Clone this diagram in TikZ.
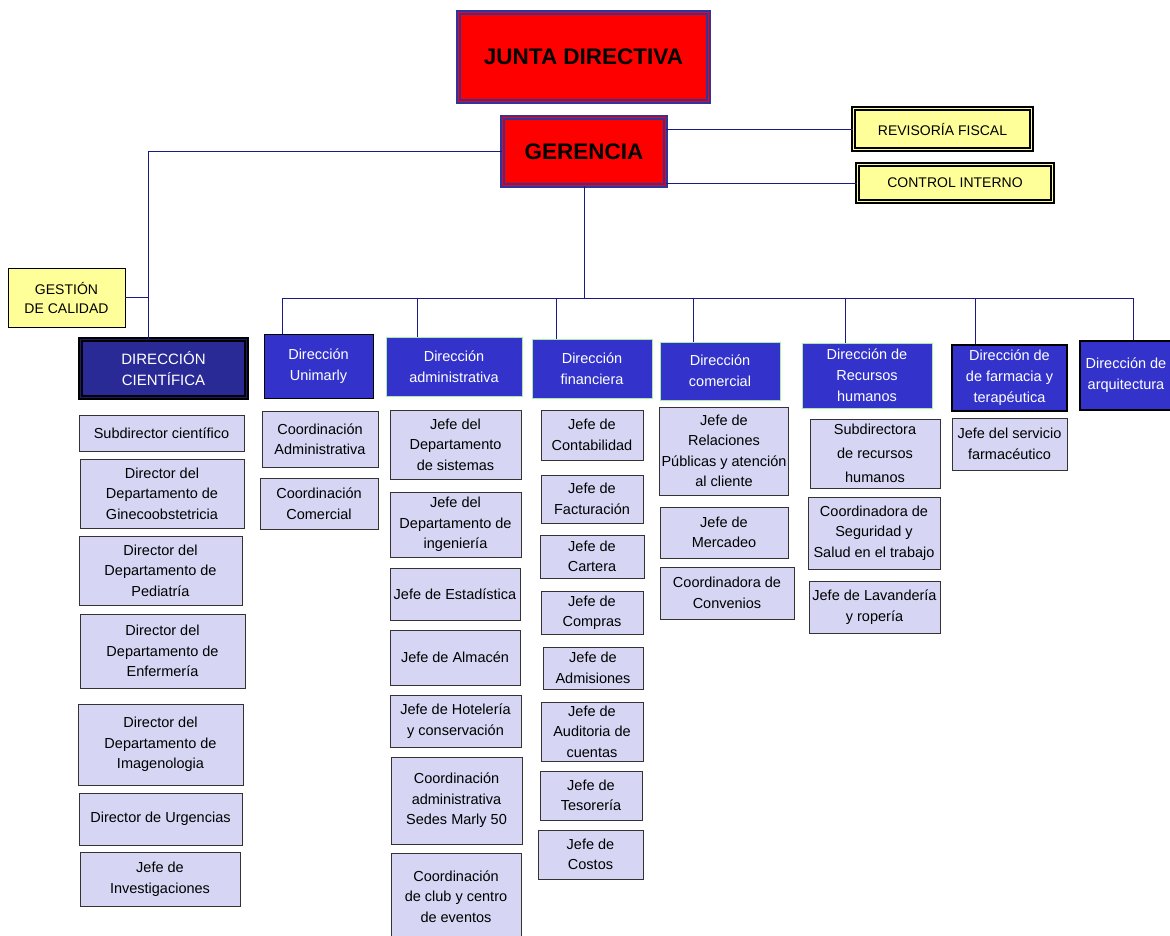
\documentclass[tikz,border=0pt]{standalone}
\usepackage{fontspec}
\setmainfont{Liberation Sans}
\usetikzlibrary{positioning,calc}
\definecolor{jred}{RGB}{255,0,0}
\definecolor{jblue}{RGB}{51,51,153}
\definecolor{dblue}{RGB}{51,51,204}
\definecolor{cblue}{RGB}{42,42,150}
\definecolor{lav}{RGB}{214,214,244}
\definecolor{pyel}{RGB}{255,255,153}
\definecolor{navy}{RGB}{25,25,135}
\definecolor{lgreen}{RGB}{170,235,170}

\begin{document}
\begin{tikzpicture}[
x=1pt,y=-1pt,
sz/.style 2 args={
  minimum width=#1pt,
  minimum height=#2pt
  },
top/.style={
  fill=jred,
  draw=jblue,
  line width=1.8pt,
  double=jred,
  double distance=1.2pt,
  font=\fontsize{22.5}{26}\selectfont\bfseries
  },
side/.style={
  fill=pyel,
  draw=black,
  line width=1.4pt,
  double=pyel,
  double distance=1.6pt,
  font=\fontsize{14}{17}\selectfont
  },
gest/.style={
  fill=pyel,
  draw=black,
  line width=0.8pt,
  align=center,
  font=\fontsize{14}{19}\selectfont
  },
dir/.style={
  fill=dblue,
  draw=black,
  line width=0.8pt,
  text=white,
  align=center,
  inner sep=2pt,
  font=\fontsize{14.5}{21}\selectfont
  },
dirg/.style={
  dir,
  draw=lgreen
  },
sub/.style={
  fill=lav,
  draw=black!80,
  line width=0.9pt,
  align=center,
  inner sep=2pt,
  font=\fontsize{14.5}{20.5}\selectfont
  },
link/.style={
  draw=navy,
  line width=1pt
  }
]
\useasboundingbox (0,0) rectangle (1170,935);

% cabeza
\node[top, sz={250}{89}] (junta) at (583.5,57) {JUNTA DIRECTIVA};
\node[top, sz={163}{68}] (ger) at (584,151.5) {GERENCIA};
\node[side, sz={178}{41}] (rf) at (942.5,129) {REVISORÍA FISCAL};
\node[side, sz={195}{37}] (ci) at (955,183) {CONTROL INTERNO};
\node[gest, sz={117}{59}] (gc) at (66.5,297.5) {GESTIÓN\\DE CALIDAD};

% direcciones
\node[dir, fill=cblue, line width=1.5pt, double=cblue!70!black, double distance=1.5pt,
  sz={166}{58}, font=\fontsize{15}{21}\selectfont] (cie) at (163.5,368.5) {DIRECCIÓN\\CIENTÍFICA};
\node[dir, sz={109}{64}] (uni) at (318.5,366) {Dirección\\Unimarly};
\node[dirg, sz={136}{59}] (adm) at (454,366.5) {Dirección\\administrativa};
\node[dirg, sz={120}{59}] (fin) at (592,368.5) {Dirección\\financiera};
\node[dirg, sz={120}{58}] (com) at (720,371) {Dirección\\comercial};
\node[dirg, sz={130}{65}] (rh) at (867,375.5) {Dirección de\\Recursos\\humanos};
\node[dir, line width=1.2pt, sz={115}{66}] (farm) at (1009.5,378) {Dirección de\\de farmacia y\\terapéutica};
\node[dir, line width=1.2pt, sz={92}{69}] (arq) at (1126,375.5) {Dirección de\\arquitectura};

% científica
\node[sub, sz={165}{36}] (c1) at (161.5,433) {Subdirector científico};
\node[sub, sz={164}{69}] (c2) at (162,493.5) {Director del\\Departamento de\\Ginecoobstetricia};
\node[sub, sz={163}{69}] (c3) at (160.5,570.5) {Director del\\Departamento de\\Pediatría};
\node[sub, sz={165}{74}] (c4) at (162.5,651) {Director del\\Departamento de\\Enfermería};
\node[sub, sz={165}{81}] (c5) at (160.5,744.5) {Director del\\Departamento de\\Imagenologia};
\node[sub, sz={163}{52}] (c6) at (160.5,819) {Director de Urgencias};
\node[sub, sz={160}{54}] (c7) at (160,879) {Jefe de\\Investigaciones};

% unimarly
\node[sub, sz={116}{56}] (u1) at (320,439) {Coordinación\\Administrativa};
\node[sub, sz={118}{51}] (u2) at (319,503.5) {Coordinación\\Comercial};

% administrativa
\node[sub, sz={131}{69}] (a1) at (455.5,444.5) {Jefe del\\Departamento\\de sistemas};
\node[sub, sz={131}{65}] (a2) at (455.5,524.5) {Jefe del\\Departamento de\\ingeniería};
\node[sub, sz={130}{52}] (a3) at (455,594) {Jefe de Estadística};
\node[sub, sz={130}{55}] (a4) at (455,657.5) {Jefe de Almacén};
\node[sub, sz={131}{52}] (a5) at (455.5,721) {Jefe de Hotelería\\y conservación};
\node[sub, sz={131}{87}] (a6) at (456.5,800.5) {Coordinación\\administrativa\\Sedes Marly 50};
\node[sub, sz={130}{87}] (a7) at (456,896.5) {Coordinación\\de club y centro\\de eventos};

% financiera
\node[sub, sz={102}{50}] (f1) at (592,435) {Jefe de\\Contabilidad};
\node[sub, sz={102}{48}] (f2) at (592,499) {Jefe de\\Facturación};
\node[sub, sz={104}{43}] (f3) at (592,556.5) {Jefe de\\Cartera};
\node[sub, sz={102}{43}] (f4) at (592,612.5) {Jefe de\\Compras};
\node[sub, sz={100}{42}] (f5) at (593,668) {Jefe de\\Admisiones};
\node[sub, sz={102}{59}] (f6) at (592,731.5) {Jefe de\\Auditoria de\\cuentas};
\node[sub, sz={102}{49}] (f7) at (591,795.5) {Jefe de\\Tesorería};
\node[sub, sz={105}{49}] (f8) at (590.5,854.5) {Jefe de\\Costos};

% comercial
\node[sub, sz={128}{88}] (m1) at (724,451) {Jefe de\\Relaciones\\Públicas y atención\\al cliente};
\node[sub, sz={128}{51}] (m2) at (724,532.5) {Jefe de\\Mercadeo};
\node[sub, sz={134}{52}] (m3) at (727,593) {Coordinadora de\\Convenios};

% recursos humanos
\node[sub, sz={130}{69}, font=\fontsize{14.5}{24}\selectfont] (r1) at (875,453.5) {Subdirectora\\de recursos\\humanos};
\node[sub, sz={132}{72}] (r2) at (874,533) {Coordinadora de\\Seguridad y\\Salud en el trabajo};
\node[sub, sz={131}{52}] (r3) at (874.5,607) {Jefe de Lavandería\\y ropería};

% farmacia
\node[sub, sz={115}{52}] (p1) at (1009.5,444) {Jefe del servicio\\farmacéutico};

% lineas
\coordinate (izq) at (148,149);
\coordinate (bus) at (283,298);
\draw[link] (ger.east |- rf.west) -- (rf.west);
\draw[link] (ger.east |- ci.west) -- (ci.west);
\draw[link] (ger.west) -- (ger.west -| izq) -- (izq |- cie.north);
\draw[link] (gc.east) -- (gc.east -| izq);
\draw[link] (ger.south) -- (ger.south |- bus);
\foreach \d/\s in {uni/19,adm/32,fin/25,com/34,rh/44,farm/24,arq/54}
{
  \coordinate (t\d) at ([xshift=\s pt]\d.north west);
  \draw[link] (t\d) -- (t\d |- bus);
}
\draw[link] (bus) -- (bus -| tarq);

\end{tikzpicture}
\end{document}
